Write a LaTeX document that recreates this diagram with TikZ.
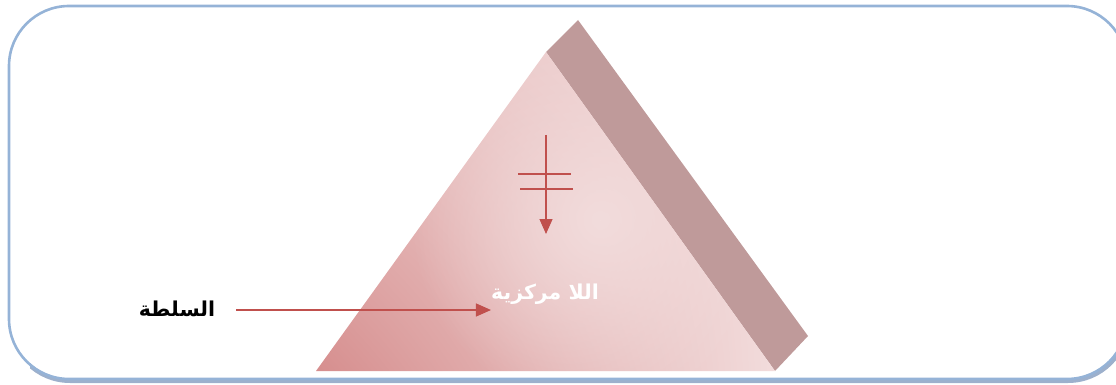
\documentclass[tikz,border=0pt]{standalone}
\usepackage{fontspec}
\newfontfamily\arabicfont[Script=Arabic]{DejaVu Sans}
\TeXXeTstate=1
\usetikzlibrary{arrows.meta,shadings,fadings}
\definecolor{frameblue}{HTML}{95B3D7}
\definecolor{shadowblue}{HTML}{9DB0CC}
\definecolor{sideface}{HTML}{BF9A9A}
\definecolor{arrowred}{HTML}{C0504D}
\definecolor{pinkdark}{HTML}{D68E8E}
\definecolor{pinkmid}{HTML}{E8C0C0}
\definecolor{pinklight}{HTML}{F2DCDC}
\tikzfading[name=softcirc, inner color=transparent!0, outer color=transparent!100]
\tikzset{
  frame/.style={draw=frameblue, line width=2.6pt, rounded corners=60pt},
  redline/.style={draw=arrowred, line width=1.3pt},
  redarrow/.style={redline, -{Triangle[length=15pt,width=13pt]}},
  lbl/.style={font=\arabicfont\bfseries\fontsize{20.5}{24}\selectfont, inner sep=0pt}
}
\begin{document}
\begin{tikzpicture}[x=1pt,y=-1pt]
\useasboundingbox (0,0) rectangle (1116,385);
\clip (0,0) rectangle (1116,385);
% shadow of frame at bottom
\begin{scope}
\clip (30,355) rectangle (1116,385);
\draw[draw=shadowblue, line width=4pt, rounded corners=60pt] (10,7) rectangle (1128,381);
\end{scope}
\draw[frame] (9,6) rectangle (1127,379);
% pyramid side face
\fill[sideface] (546,52) -- (578,20) -- (808,336) -- (775,371) -- cycle;
% pyramid front face
\shade[upper right=pinklight, upper left=pinkmid, lower left=pinkdark, lower right=pinklight]
  (546,52) -- (775,371) -- (316,371) -- cycle;
\begin{scope}
\clip (546,52) -- (775,371) -- (316,371) -- cycle;
\fill[pinklight, path fading=softcirc] (600,220) circle (190);
\end{scope}
% arrow with two bars
\coordinate (vtop) at (546,135);
\coordinate (vbot) at (546,234);
\draw[redarrow] (vtop) -- (vbot);
\coordinate (b1l) at (518,174); \coordinate (b1r) at (571,174);
\coordinate (b2l) at (520,189); \coordinate (b2r) at (573,189);
\draw[redline] (b1l) -- (b1r);
\draw[redline] (b2l) -- (b2r);
% labels
\node[lbl, text=white] (decen) at (545,294) {\beginR اللا مركزية\endR};
\node[lbl, text=black] (auth) at (177,309) {\beginR السلطة\endR};
\coordinate (hstart) at (236,310);
\draw[redarrow] (hstart) -- (decen.west |- hstart);
\end{tikzpicture}
\end{document}
